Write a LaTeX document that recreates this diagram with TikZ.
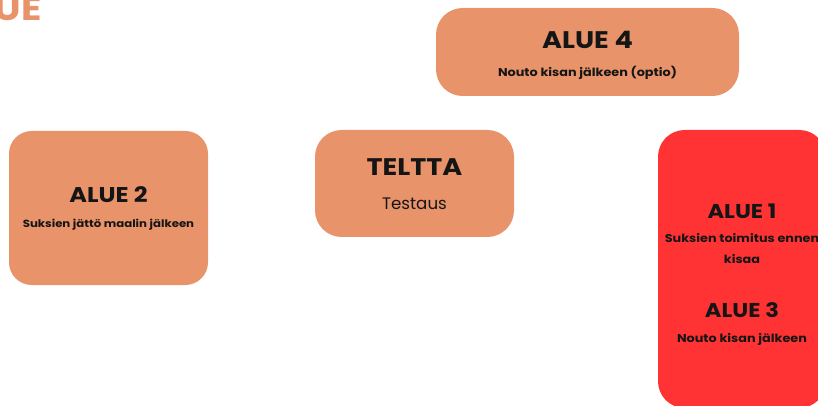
\documentclass[tikz,border=0pt]{standalone}
\usepackage{fontspec}
\setmainfont{Poppins}
\newfontfamily\widefont{Poppins}[FakeStretch=1.13]
\definecolor{areaorange}{HTML}{E8936A}
\definecolor{areared}{HTML}{FF3333}
\definecolor{ink}{HTML}{151515}

\begin{document}
\begin{tikzpicture}
  [x=0.75pt,y=-0.75pt,
   area/.style={rectangle,rounded corners=20pt,fill=areaorange,inner sep=0pt},
   title/.style={anchor=base,text=ink,font=\widefont\bfseries\fontsize{18}{20}\selectfont},
   sub/.style={anchor=base,text=ink,font=\widefont\bfseries\fontsize{8.5}{10}\selectfont}]
  \clip (0,0) rectangle (818,406);
  \node[anchor=base east,inner sep=0pt,text=areaorange,font=\widefont\bfseries\fontsize{25}{28}\selectfont] (head) at (42,21) {UE};

  \node[area,minimum width=227.25pt,minimum height=66pt] (a4) at (587.5,52) {};
  \node[area,minimum width=149.25pt,minimum height=80.25pt] (tent) at (414.5,183.5) {};
  \node[area,rounded corners=17pt,minimum width=149.25pt,minimum height=115.5pt] (a2) at (108.5,208) {};
  \node[area,fill=areared,minimum width=126pt,minimum height=208.5pt] (a1) at (742,269) {};

  \node[title] (a4t) at (587.5,49) {ALUE 4};
  \node[sub] (a4s) at (587.5,77) {Nouto kisan jälkeen (optio)};
  \node[title] (tentt) at (414.5,176) {TELTTA};
  \node[anchor=base,text=ink,font=\fontsize{12.5}{14}\selectfont] (tents) at (414.5,210) {Testaus};
  \node[title,font=\widefont\bfseries\fontsize{16}{18}\selectfont] (a2t) at (108.5,203) {ALUE 2};
  \node[sub,font=\widefont\bfseries\fontsize{7.8}{9}\selectfont] (a2s) at (108.5,228) {Suksien jättö maalin jälkeen};
  \node[title,font=\widefont\bfseries\fontsize{15}{17}\selectfont] (a1t) at (742,219) {ALUE 1};
  \node[sub] (a1s) at (742,243) {Suksien toimitus ennen};
  \node[sub] (a1u) at (742,263) {kisaa};
  \node[title,font=\widefont\bfseries\fontsize{15}{17}\selectfont] (a3t) at (742,317) {ALUE 3};
  \node[sub] (a3s) at (742,342) {Nouto kisan jälkeen};
\end{tikzpicture}
\end{document}
